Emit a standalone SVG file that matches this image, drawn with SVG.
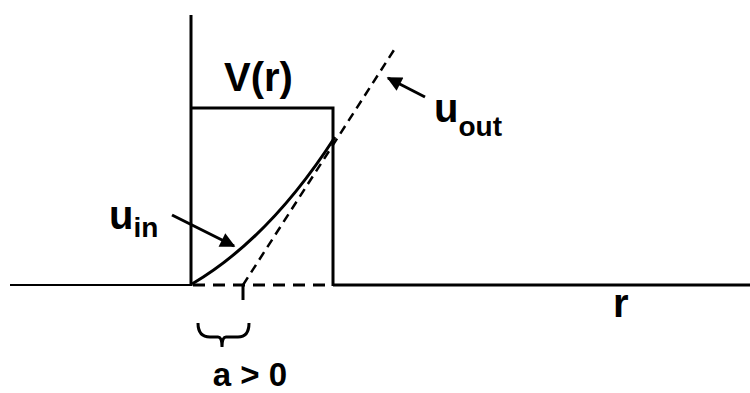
<svg xmlns="http://www.w3.org/2000/svg" width="750" height="393" viewBox="0 0 750 393">
<style>
.ln{stroke:#000;stroke-width:3;fill:none}
.thin{stroke:#000;stroke-width:2;fill:none}
.dash{stroke:#000;stroke-width:3;fill:none;stroke-dasharray:12 8}
.dash2{stroke:#000;stroke-width:2.5;fill:none;stroke-dasharray:9 6}
.t{font-family:"Liberation Sans",Arial,sans-serif;font-weight:bold;fill:#000}
</style>
<defs>
<marker id="ah" viewBox="0 0 10 10" refX="9" refY="5" markerWidth="6" markerHeight="5" orient="auto" markerUnits="strokeWidth">
<path d="M0,0 L10,5 L0,10 z" fill="#000"/>
</marker>
</defs>
<rect width="750" height="393" fill="#fff"/>
<g id="axes">
<line class="ln" x1="191" y1="15" x2="191" y2="286"/>
<line class="thin" x1="10" y1="285" x2="191" y2="285"/>
<line class="ln" x1="333" y1="285" x2="750" y2="285"/>
</g>
<g id="potential">
<polyline class="ln" points="191,108 333,108 333,286"/>
<text class="t" x="224" y="91" font-size="40">V(r)</text>
</g>
<g id="connectors">
<line class="dash" x1="193" y1="285" x2="333" y2="285"/>
<line class="dash2" x1="243" y1="285" x2="394" y2="50"/>
<line class="ln" x1="243" y1="286" x2="243" y2="300"/>
<path class="ln" d="M192,284 Q270,238 335,137"/>
<line class="ln" x1="172" y1="215" x2="234" y2="246" marker-end="url(#ah)"/>
<line class="ln" x1="425" y1="97" x2="388" y2="78" marker-end="url(#ah)"/>
<path class="ln" d="M198,323 Q198,337 210,337 L218,337 Q222,337 222,347 Q222,337 226,337 L238,337 Q249,337 249,323"/>
</g>
<g id="labels">
<text class="t" x="434" y="122" font-size="40">u<tspan font-size="28" dy="14">out</tspan></text>
<text class="t" x="109" y="229" font-size="40">u<tspan font-size="28" dy="8">in</tspan></text>
<text class="t" x="613" y="317" font-size="40">r</text>
<text class="t" x="250" y="386" font-size="33" text-anchor="middle">a &gt; 0</text>
</g>
</svg>
